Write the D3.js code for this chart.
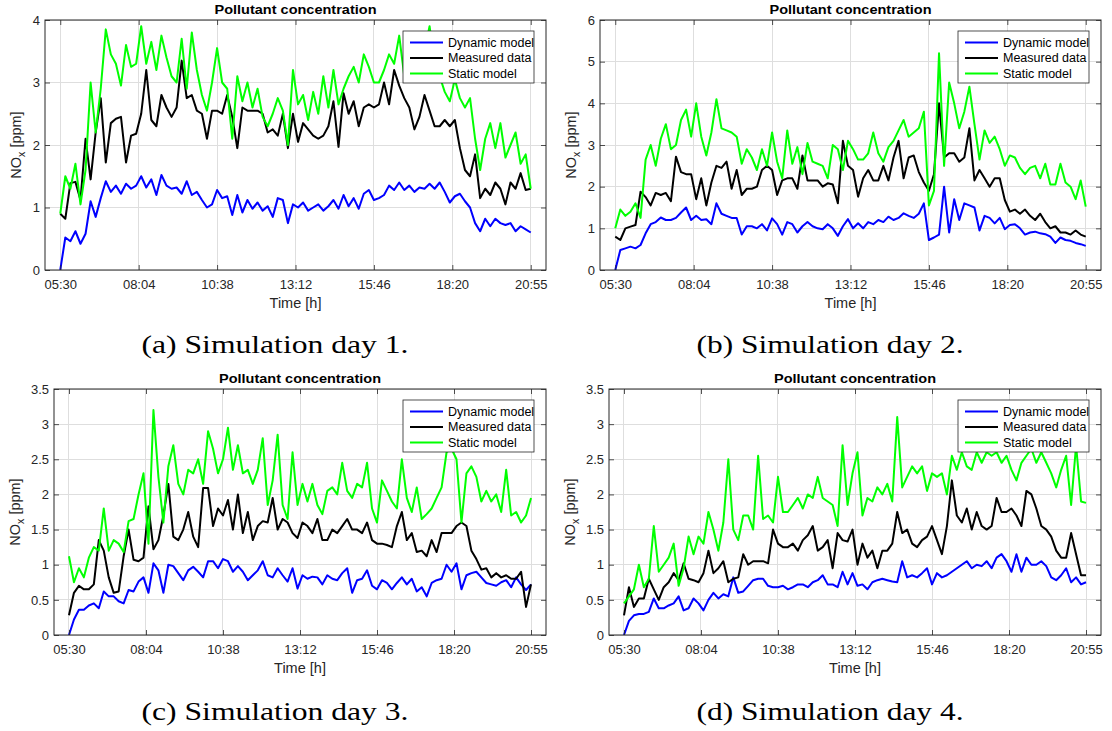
<!DOCTYPE html>
<html>
<meta charset="utf-8">
<title>Pollutant concentration</title>
<style>
  body {
    margin: 0;
    background: #fff;
  }
  svg {
    display: block;
    font-family: "Liberation Sans", Arial, sans-serif;
  }
  .grid line {
    stroke: #dedede;
    stroke-width: 1;
    shape-rendering: crispEdges;
  }
  .axis line {
    stroke: #262626;
    stroke-width: 0.8;
  }
  .axis text {
    fill: #262626;
    font-size: 13px;
    font-family: "Liberation Sans", Arial, sans-serif;
  }
  .series {
    fill: none;
    stroke-width: 2;
    stroke-linejoin: round;
  }
</style>
<body>
<svg id="fig" width="1112" height="731"></svg>
<script src="https://d3js.org/d3.v7.min.js"></script>
<script>
// x axis: minutes since midnight, data runs 05:30 -> 20:55
var startMin = 330, endMin = 1255, padMin = 30;
var tickLabels = ["05:30", "08:04", "10:38", "13:12", "15:46", "18:20", "20:55"];
var seriesNames = ["Dynamic model", "Measured data", "Static model"];
var seriesColors = ["#0000ff", "#000000", "#00ff00"];
var captions = ["(a) Simulation day 1.", "(b) Simulation day 2.", "(c) Simulation day 3.", "(d) Simulation day 4."];
var yTicks1 = [0, 1, 2, 3, 4];
var yTicks2 = [0, 1, 2, 3, 4, 5, 6];
var yTicks34 = [0, 0.5, 1, 1.5, 2, 2.5, 3, 3.5];

// day 1
var dyn1 = [0,0.52,0.46,0.62,0.42,0.58,1.1,0.85,1.15,1.42,
  1.25,1.35,1.22,1.38,1.3,1.35,1.5,1.32,1.45,1.2,
  1.52,1.35,1.3,1.32,1.22,1.42,1.2,1.25,1.12,1.0,
  1.05,1.28,1.15,1.18,0.88,1.2,0.92,1.12,0.98,1.08,
  0.95,1.02,0.85,1.15,1.12,0.75,1.05,1.0,1.08,0.95,
  1.0,1.05,0.95,1.02,1.12,0.98,1.2,1.02,1.15,0.98,
  1.22,1.28,1.12,1.15,1.2,1.35,1.28,1.4,1.28,1.35,
  1.25,1.32,1.3,1.38,1.3,1.4,1.25,1.08,1.18,1.22,
  1.1,1.0,0.75,0.62,0.82,0.7,0.82,0.75,0.72,0.75,
  0.62,0.7,0.65,0.6];
var meas1 = [0.9,0.82,1.39,1.41,1.12,2.1,1.45,2.2,2.75,1.72,
  2.35,2.42,2.45,1.72,2.15,2.18,2.5,3.2,2.4,2.3,
  2.8,2.6,2.45,2.6,3.35,2.75,2.8,2.55,2.5,2.1,
  2.55,2.55,2.5,2.8,2.45,1.95,2.6,2.55,2.55,2.55,
  2.5,2.2,2.25,2.15,2.5,1.95,2.5,2.05,2.35,2.25,
  2.15,2.1,2.15,2.3,2.7,1.97,2.83,2.5,2.7,2.3,
  2.6,2.65,2.6,2.65,3.0,2.65,3.2,2.95,2.75,2.6,
  2.25,2.45,2.8,2.55,2.3,2.3,2.4,2.3,2.4,1.95,
  1.6,1.5,1.85,1.15,1.3,1.2,1.4,1.3,1.05,1.4,
  1.3,1.55,1.28,1.3];
var stat1 = [0.9,1.5,1.3,1.7,1.05,1.6,3.0,2.2,2.9,3.85,
  3.45,3.3,2.95,3.6,3.25,3.3,3.9,3.3,3.65,3.2,
  3.75,3.4,3.1,3.0,3.7,2.9,3.8,3.2,2.8,2.55,
  3.0,3.55,3.0,2.9,2.1,3.1,2.7,3.0,2.6,2.9,
  2.45,2.3,2.5,2.75,2.55,2.0,3.2,2.65,2.8,2.4,
  2.85,2.5,3.1,2.6,3.2,2.65,2.9,3.1,3.25,3.0,
  3.45,3.25,3.0,3.0,3.2,3.45,3.3,3.75,3.1,3.2,
  3.3,3.4,3.5,3.9,3.3,3.1,2.85,2.7,3.05,2.75,
  2.6,2.75,2.1,1.6,2.1,2.35,1.95,2.35,1.8,2.0,
  2.2,1.7,1.85,1.3];

// day 2
var dyn2 = [0,0.48,0.52,0.56,0.52,0.6,0.88,1.1,1.15,1.26,
  1.2,1.2,1.25,1.38,1.5,1.2,1.3,1.2,1.22,1.1,
  1.6,1.35,1.3,1.25,1.25,0.85,1.05,1.05,1.0,1.1,
  0.95,1.24,1.1,0.85,1.15,1.1,0.9,1.05,1.15,1.05,
  1.0,0.98,1.1,1.0,0.82,1.05,1.22,1.0,1.12,1.0,
  1.15,1.1,1.2,1.15,1.28,1.2,1.25,1.36,1.3,1.25,
  1.35,1.6,0.72,0.78,0.85,2.0,0.9,1.7,1.2,1.6,
  1.55,1.5,0.95,1.3,1.25,1.12,1.25,0.98,1.08,1.1,
  1.0,0.85,0.9,0.92,0.88,0.86,0.8,0.65,0.78,0.72,
  0.7,0.65,0.62,0.58];
var meas2 = [0.8,0.72,1.0,1.04,1.08,1.88,1.75,1.55,1.85,1.8,
  1.85,1.65,2.72,2.35,2.3,2.3,1.7,2.2,1.55,2.1,
  2.5,2.45,2.6,1.95,2.4,1.8,1.95,1.95,2.0,2.4,
  2.5,2.4,1.8,2.15,2.2,2.2,1.95,2.75,2.15,2.15,
  2.15,2.0,2.08,2.05,1.6,3.1,2.5,2.4,1.76,2.2,
  2.4,2.15,2.15,2.5,2.15,2.7,3.1,2.2,2.7,2.75,
  2.35,2.1,1.9,2.3,4.0,2.7,2.8,2.8,2.6,2.7,
  3.4,2.15,2.4,2.2,2.0,2.2,2.2,1.68,1.4,1.45,
  1.35,1.45,1.3,1.2,1.35,1.15,1.0,1.05,0.9,0.9,
  0.85,0.95,0.85,0.8];
var stat2 = [1.0,1.45,1.3,1.4,1.6,1.25,2.65,3.0,2.5,3.15,
  3.5,2.9,3.0,3.6,3.85,3.2,4.0,3.2,2.75,3.3,
  4.1,3.4,3.35,3.3,3.2,2.55,2.9,2.7,2.4,2.9,
  2.5,3.3,2.6,2.2,3.35,2.55,2.95,2.3,3.05,2.6,
  2.55,2.5,2.2,3.0,2.9,2.4,3.1,2.9,2.65,2.65,
  2.8,3.3,2.8,2.6,2.95,3.1,3.35,3.6,3.2,3.3,
  3.4,3.8,1.55,1.9,5.2,2.5,4.5,4.0,3.4,3.8,
  4.4,3.5,2.65,3.35,3.05,3.2,2.9,2.5,2.75,2.7,
  2.45,2.3,2.45,2.5,2.2,2.55,2.05,2.05,2.55,2.1,
  2.0,1.7,2.15,1.52];

// day 3
var dyn3 = [0,0.22,0.36,0.36,0.42,0.45,0.38,0.62,0.55,0.55,
  0.48,0.45,0.64,0.62,0.76,0.82,0.6,1.02,0.92,0.6,
  1.0,0.98,0.88,0.78,0.92,0.97,0.9,0.82,1.05,1.05,
  0.95,1.08,1.05,0.9,0.98,0.9,0.78,0.85,0.92,1.05,
  0.85,0.82,0.95,0.85,0.76,0.95,0.66,0.85,0.8,0.83,
  0.82,0.72,0.85,0.8,0.78,0.88,0.95,0.6,0.78,0.8,
  0.92,0.7,0.65,0.78,0.74,0.65,0.74,0.82,0.72,0.8,
  0.62,0.68,0.55,0.74,0.78,0.8,1.0,0.9,1.02,0.65,
  0.85,0.88,0.9,0.82,0.74,0.72,0.7,0.75,0.78,0.68,
  0.82,0.72,0.64,0.72];
var meas3 = [0.28,0.6,0.7,0.65,0.65,0.72,1.35,1.2,0.82,0.6,
  0.62,1.12,1.5,1.07,1.05,1.1,1.83,1.22,1.35,1.7,
  2.15,1.4,1.35,1.5,1.75,1.4,1.25,2.09,2.09,1.55,
  1.8,1.7,1.92,1.5,2.0,1.45,1.75,1.35,1.55,1.62,
  1.6,1.95,1.5,1.65,1.6,1.45,1.38,1.6,1.55,1.45,
  1.65,1.35,1.35,1.5,1.45,1.55,1.65,1.5,1.5,1.45,
  1.6,1.35,1.3,1.3,1.28,1.25,1.55,1.75,1.35,1.45,
  1.18,1.2,1.12,1.35,1.18,1.45,1.45,1.45,1.55,1.6,
  1.55,1.2,1.08,0.93,0.95,0.82,0.88,0.82,0.85,0.8,
  0.8,0.9,0.4,0.72];
var stat3 = [1.12,0.75,0.95,0.82,1.1,1.25,1.2,1.8,1.2,1.35,
  1.3,1.18,1.62,1.65,2.0,2.3,1.3,3.2,2.25,1.6,
  2.4,2.7,2.15,2.0,2.35,2.3,2.5,2.15,2.9,2.65,
  2.3,2.5,2.95,2.35,2.7,2.3,2.35,2.15,2.35,2.8,
  1.85,2.2,2.85,1.85,1.65,2.6,1.85,2.15,1.9,2.15,
  1.85,1.72,2.05,2.1,2.0,2.45,2.05,1.95,2.15,2.1,
  2.45,1.8,1.6,2.2,2.05,1.9,1.8,2.5,1.95,1.75,
  2.1,1.65,1.72,1.8,1.95,2.1,2.6,2.65,2.5,1.6,
  2.3,2.4,2.25,1.9,2.05,1.9,2.0,1.75,2.35,1.7,
  1.75,1.6,1.7,1.95];

// day 4
var dyn4 = [0,0.2,0.28,0.3,0.3,0.33,0.52,0.38,0.38,0.42,
  0.45,0.55,0.35,0.38,0.52,0.45,0.35,0.5,0.6,0.52,
  0.58,0.55,0.82,0.6,0.62,0.7,0.78,0.8,0.8,0.7,
  0.68,0.68,0.7,0.65,0.68,0.72,0.72,0.68,0.75,0.78,
  0.85,0.72,0.72,0.68,0.9,0.72,0.88,0.7,0.72,0.65,
  0.75,0.78,0.8,0.78,0.76,0.75,1.05,0.82,0.85,0.82,
  0.88,0.95,0.72,0.88,0.82,0.85,0.9,0.95,1.0,1.05,
  0.95,1.0,0.98,1.05,0.95,1.1,1.15,1.05,0.9,1.15,
  0.9,1.1,1.0,1.0,1.05,0.98,0.82,0.78,0.85,0.95,
  0.75,0.82,0.72,0.75];
var meas4 = [0.28,0.68,0.4,0.52,0.52,0.8,0.65,0.5,0.68,0.75,
  0.88,0.78,1.02,0.8,0.78,0.75,0.88,1.2,0.88,0.95,
  1.05,0.75,0.8,0.82,1.15,1.0,1.05,1.05,1.05,1.02,
  1.5,1.3,1.25,1.25,1.3,1.2,1.35,1.42,1.55,1.2,
  1.25,1.35,0.95,1.45,1.35,1.33,1.5,1.0,1.3,1.1,
  1.2,0.95,1.2,1.2,1.3,1.75,1.45,1.5,1.3,1.25,
  1.35,1.4,1.55,1.35,1.15,1.55,2.2,1.7,1.6,1.8,
  1.5,1.75,1.55,1.5,1.55,1.95,1.75,1.75,1.8,1.7,
  1.55,2.05,2.0,1.8,1.55,1.5,1.4,1.2,1.1,1.1,
  1.45,1.15,0.85,0.85];
var stat4 = [0.45,0.55,0.65,1.0,0.68,0.8,1.55,0.9,1.0,1.1,
  1.3,0.7,0.95,1.4,1.15,1.4,1.3,1.75,1.5,1.2,
  1.6,2.5,1.5,1.35,1.7,1.7,1.5,2.55,1.65,1.7,
  1.6,2.25,1.75,1.75,1.85,1.95,1.8,2.0,1.95,2.25,
  1.95,1.9,1.85,1.55,2.7,1.85,2.3,2.6,1.7,1.95,
  1.9,2.1,2.0,2.15,1.9,3.1,2.1,2.25,2.4,2.3,
  2.4,2.05,2.3,2.25,2.3,2.0,2.55,2.35,2.6,2.4,
  2.35,2.6,2.45,2.6,2.55,2.6,2.45,2.55,2.35,2.2,
  2.45,2.55,2.65,2.45,2.6,2.45,2.3,2.1,2.35,2.55,
  1.85,2.7,1.9,1.88];

var panels = [
  {ymax: 4, yticks: yTicks1, data: [dyn1, meas1, stat1]},
  {ymax: 6, yticks: yTicks2, data: [dyn2, meas2, stat2]},
  {ymax: 3.5, yticks: yTicks34, data: [dyn3, meas3, stat3]},
  {ymax: 3.5, yticks: yTicks34, data: [dyn4, meas4, stat4]}
];

// where each subplot sits on the page
var layout = [
  {left: 45, right: 546, top: 20, bottom: 270, ylabX: 16, capX: 275, capY: 353},
  {left: 600, right: 1101, top: 20, bottom: 270, ylabX: 571, capX: 830, capY: 353},
  {left: 54, right: 546, top: 389, bottom: 635, ylabX: 15, capX: 275, capY: 720},
  {left: 609, right: 1101, top: 389, bottom: 635, ylabX: 570, capX: 830, capY: 720}
];

var svg = d3.select("#fig");

panels.forEach(function(p, k) {
  var L = layout[k];
  var n = p.data[0].length;
  var times = d3.range(n).map(function(i) { return startMin + i * (endMin - startMin) / (n - 1); });
  var xt = tickLabels.map(function(s, i) { return startMin + i * (endMin - startMin) / (tickLabels.length - 1); });

  var x = d3.scaleLinear().domain([startMin - padMin, endMin + padMin]).range([L.left, L.right]);
  var y = d3.scaleLinear().domain([0, p.ymax]).range([L.bottom, L.top]);

  var g = svg.append("g");

  // grid
  var grid = g.append("g").attr("class", "grid");
  grid.selectAll("line.v").data(xt).enter().append("line")
    .attr("x1", function(d) { return x(d); })
    .attr("x2", function(d) { return x(d); })
    .attr("y1", L.top).attr("y2", L.bottom);
  grid.selectAll("line.h").data(p.yticks).enter().append("line")
    .attr("y1", function(d) { return y(d); })
    .attr("y2", function(d) { return y(d); })
    .attr("x1", L.left).attr("x2", L.right);

  // series
  var clipId = "clip" + k;
  g.append("clipPath").attr("id", clipId).append("rect")
    .attr("x", L.left).attr("y", L.top)
    .attr("width", L.right - L.left).attr("height", L.bottom - L.top);

  var line = d3.line()
    .x(function(d, i) { return x(times[i]); })
    .y(function(d) { return y(d); });

  g.append("g").attr("clip-path", "url(#" + clipId + ")")
    .selectAll("path").data(p.data).enter().append("path")
    .attr("class", "series")
    .attr("stroke", function(d, i) { return seriesColors[i]; })
    .attr("d", line);

  // axes, ticks pointing inwards on all four sides
  function styleAxis(sel) {
    sel.attr("font-size", null).attr("font-family", null);
    sel.select(".domain").remove();
  }
  g.append("g").attr("class", "axis")
    .attr("transform", "translate(0," + L.bottom + ")")
    .call(d3.axisBottom(x).tickValues(xt)
      .tickFormat(function(d, i) { return tickLabels[i]; })
      .tickSizeInner(-5).tickSizeOuter(0).tickPadding(10))
    .call(styleAxis);
  g.append("g").attr("class", "axis")
    .attr("transform", "translate(0," + L.top + ")")
    .call(d3.axisTop(x).tickValues(xt).tickFormat("")
      .tickSizeInner(-5).tickSizeOuter(0))
    .call(styleAxis);
  g.append("g").attr("class", "axis")
    .attr("transform", "translate(" + L.left + ",0)")
    .call(d3.axisLeft(y).tickValues(p.yticks)
      .tickFormat(function(d) { return String(d); })
      .tickSizeInner(-5).tickSizeOuter(0).tickPadding(5))
    .call(styleAxis);
  g.append("g").attr("class", "axis")
    .attr("transform", "translate(" + L.right + ",0)")
    .call(d3.axisRight(y).tickValues(p.yticks).tickFormat("")
      .tickSizeInner(-5).tickSizeOuter(0))
    .call(styleAxis);

  g.append("rect")
    .attr("x", L.left).attr("y", L.top)
    .attr("width", L.right - L.left).attr("height", L.bottom - L.top)
    .attr("fill", "none").attr("stroke", "#262626").attr("stroke-width", 1);

  // title and axis labels
  g.append("text")
    .attr("x", (L.left + L.right) / 2).attr("y", L.top - 6.5)
    .attr("text-anchor", "middle")
    .attr("font-weight", "bold").attr("font-size", 13.5)
    .attr("textLength", 162).attr("lengthAdjust", "spacingAndGlyphs")
    .text("Pollutant concentration");

  g.append("text")
    .attr("x", (L.left + L.right) / 2).attr("y", L.bottom + 38)
    .attr("text-anchor", "middle").attr("font-size", 14.5).attr("fill", "#262626")
    .text("Time [h]");

  var yl = g.append("text")
    .attr("transform", "translate(" + L.ylabX + "," + (L.top + L.bottom) / 2 + ") rotate(-90)")
    .attr("text-anchor", "middle").attr("dy", "0.35em")
    .attr("font-size", 14.5).attr("fill", "#262626");
  yl.append("tspan").text("NO");
  yl.append("tspan").attr("dy", 4).attr("font-size", 10.5).text("x");
  yl.append("tspan").attr("dy", -4).text(" [ppm]");

  // legend
  var lw = 131, lh = 52;
  var lg = g.append("g")
    .attr("transform", "translate(" + (L.right - 12 - lw) + "," + (L.top + 11) + ")");
  lg.append("rect").attr("width", lw).attr("height", lh)
    .attr("fill", "#fff").attr("stroke", "#262626").attr("stroke-width", 0.8);
  seriesNames.forEach(function(name, i) {
    var ry = 11.5 + i * 15.5;
    lg.append("line")
      .attr("x1", 7).attr("x2", 40).attr("y1", ry).attr("y2", ry)
      .attr("stroke", seriesColors[i]).attr("stroke-width", 2);
    lg.append("text")
      .attr("x", 45).attr("y", ry).attr("dy", "0.35em")
      .attr("font-size", 12.5).attr("fill", "#000")
      .text(name);
  });

  // caption under the subplot
  svg.append("text")
    .attr("x", L.capX).attr("y", L.capY)
    .attr("text-anchor", "middle")
    .attr("font-family", "'Liberation Serif', 'Times New Roman', serif")
    .attr("font-size", 25)
    .attr("textLength", 267).attr("lengthAdjust", "spacingAndGlyphs")
    .text(captions[k]);
});
</script>
</body>
</html>
